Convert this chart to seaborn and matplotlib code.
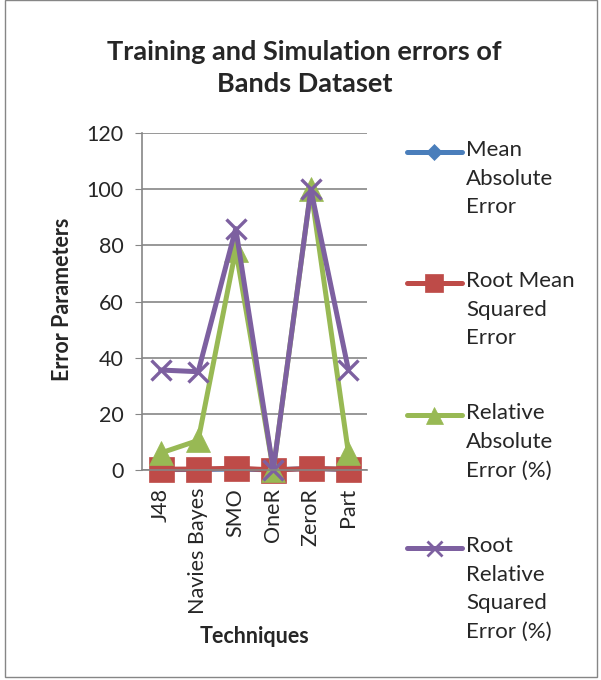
import numpy as np
import pandas as pd
import matplotlib
matplotlib.use("Agg")
import matplotlib.pyplot as plt
import seaborn as sns
from matplotlib.lines import Line2D
from matplotlib.patches import Rectangle

# data
techniques = ["J48", "Navies Bayes", "SMO", "OneR", "ZeroR", "Part"]
mae = [0.1, 0.15, 0.3, 0.0, 0.5, 0.1]
rmse = [0.25, 0.3, 0.6, 0.0, 0.5, 0.25]
rae = [6.0, 10.5, 78.5, 0.0, 100.0, 6.0]
rrse = [35.6, 35.0, 86.0, 0.0, 100.0, 35.6]

series_names = ["Mean\nAbsolute\nError", "Root Mean\nSquared\nError",
                "Relative\nAbsolute\nError (%)", "Root\nRelative\nSquared\nError (%)"]
series_values = [mae, rmse, rae, rrse]
colors = ["#4A7EBB", "#BE4B48", "#98B954", "#7D60A0"]
markers = ["D", "s", "^", "x"]
msizes = [11, 18, 17, 15]

sns.set_style("white")
plt.rcParams["font.family"] = ["Lato", "DejaVu Sans"]

fig = plt.figure(figsize=(6.01, 6.8), dpi=100)
ax = fig.add_axes([0.236, 0.309, 0.375, 0.495])

pos = np.arange(len(techniques))
for name, vals, c, m, ms in zip(series_names, series_values, colors, markers, msizes):
    df = pd.DataFrame({"pos": pos, "value": vals})
    sns.lineplot(data=df, x="pos", y="value", ax=ax, color=c, linewidth=3.6,
                 marker=m, markersize=ms, markeredgecolor=c,
                 markeredgewidth=2.4 if m == "x" else 0.5,
                 legend=False, clip_on=False)

ax.set_xlim(-0.5, len(techniques) - 0.5)
ax.set_ylim(0, 120)
ax.set_yticks(np.arange(0, 121, 20))
ax.set_xticks(pos)
ax.set_xticklabels(techniques, rotation=90, fontsize=15.5)
ax.tick_params(axis="y", labelsize=15.5, length=5, color="#868686", direction="out", left=True, pad=8)
ax.tick_params(axis="x", length=0, pad=13)
ax.yaxis.grid(True, color="#868686", linewidth=1.2)
ax.xaxis.grid(False)
ax.set_axisbelow(True)
for s in ["top", "right"]:
    ax.spines[s].set_visible(False)
for s in ["left", "bottom"]:
    ax.spines[s].set_color("#868686")
    ax.spines[s].set_linewidth(1.2)
ax.set_xlabel("")
ax.set_ylabel("")

fig.text(0.104, 0.56, "Error Parameters", rotation=90, ha="center", va="center",
         fontsize=15.5, fontweight="bold")
fig.text(0.424, 0.064, "Techniques", ha="center", va="center", fontsize=15.5, fontweight="bold")
fig.text(0.507, 0.9, "Training and Simulation errors of\nBands Dataset", ha="center", va="center",
         fontsize=19.5, fontweight="bold", linespacing=1.45)

# legend drawn by hand so each handle sits on the first text line
leg_y = [152, 283, 415, 548]
for name, c, m, ms, y in zip(series_names, colors, markers, msizes, leg_y):
    fy = 1 - y / 680
    fig.add_artist(Line2D([407 / 601, 462 / 601], [fy, fy], color=c, linewidth=3.6,
                          transform=fig.transFigure))
    fig.add_artist(Line2D([434 / 601], [fy], color=c, marker=m, markersize=ms * 0.72,
                          markeredgecolor=c, markeredgewidth=2.0 if m == "x" else 0.5,
                          transform=fig.transFigure))
    fig.text(466 / 601, fy + 0.018, name, ha="left", va="top", fontsize=16, linespacing=1.55)

fig.add_artist(Rectangle((5 / 601, 3 / 680), 592 / 601, 677 / 680, transform=fig.transFigure,
                         fill=False, edgecolor="#868686", linewidth=1.0))

fig.savefig("out.png", dpi=100, facecolor="white")
